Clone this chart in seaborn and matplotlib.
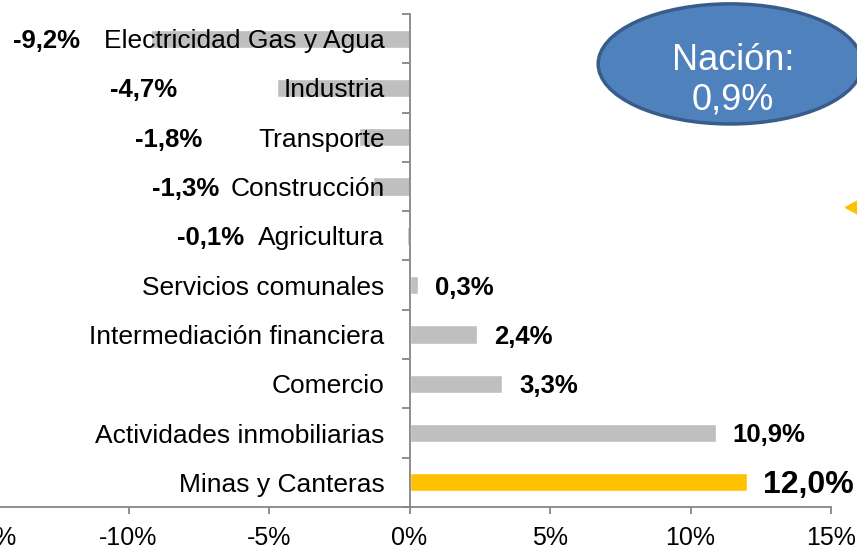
import matplotlib
matplotlib.use("Agg")
import matplotlib.pyplot as plt
import seaborn as sns
import pandas as pd
from matplotlib.patches import Ellipse
from matplotlib.ticker import FuncFormatter, FixedLocator

# Datos: variación por sector (%)
sectores = ["Electricidad Gas y Agua", "Industria", "Transporte", "Construcción",
            "Agricultura", "Servicios comunales", "Intermediación financiera",
            "Comercio", "Actividades inmobiliarias", "Minas y Canteras"]
variacion = [-9.2, -4.7, -1.8, -1.3, -0.1, 0.3, 2.4, 3.3, 10.9, 12.0]
colores = ["#BFBFBF"] * 9 + ["#FFC000"]
nacion = "0,9%"

# posición (borde derecho, en %) de las etiquetas negativas, como en el original
pos_etiq_neg = [-11.74, -8.26, -7.37, -6.76, -5.87]

df = pd.DataFrame({"sector": sectores, "variacion": variacion})

sns.set_theme(style="white")
plt.rcParams["font.family"] = ["Liberation Sans", "DejaVu Sans"]

fig = plt.figure(figsize=(8.57, 5.51), dpi=100)
ax = fig.add_axes([-0.014, 0.0799, 0.9837, 0.8947])

sns.barplot(data=df, x="variacion", y="sector", hue="sector", palette=colores,
            legend=False, orient="h", width=0.37, saturation=1, ax=ax)

# los nombres de sector van por encima de las barras
ax.set_axisbelow(False)

ax.set_xlim(-15, 15)
ax.set_ylim(len(sectores) - 0.5, -0.5)
ax.set_xlabel("")
ax.set_ylabel("")

gris = "#868686"
for s in ["top", "right"]:
    ax.spines[s].set_visible(False)
ax.spines["left"].set_position(("data", 0))
ax.spines["left"].set_color(gris)
ax.spines["bottom"].set_color(gris)
ax.spines["left"].set_linewidth(1.3)
ax.spines["bottom"].set_linewidth(1.3)

ax.set_xticks(range(-15, 16, 5))
ax.xaxis.set_major_formatter(FuncFormatter(lambda v, p: f"{int(v)}%"))
ax.tick_params(axis="x", direction="out", length=5, width=1.3, color=gris,
               labelsize=18, pad=9, labelcolor="black", bottom=True)
ax.tick_params(axis="y", which="major", length=0, pad=18, labelsize=19,
               labelcolor="black", left=True)
ax.yaxis.set_minor_locator(FixedLocator([i - 0.5 for i in range(len(sectores) + 1)]))
ax.tick_params(axis="y", which="minor", direction="out", length=5.5, width=1.3,
               color=gris, left=True)

# etiquetas de valores
k = 0
for i, v in enumerate(variacion):
    txt = f"{v:.1f}%".replace(".", ",")
    if v < 0:
        ax.text(pos_etiq_neg[k], i + 0.05, txt, ha="right", va="center",
                fontsize=18.5, fontweight="bold", color="black", zorder=5)
        k += 1
    else:
        grande = (i == len(variacion) - 1)
        ax.annotate(txt, (v, i + 0.05), xytext=(12, 0), textcoords="offset points",
                    ha="left", va="center", fontweight="bold", color="black",
                    fontsize=23 if grande else 18.5)

# óvalo Nación
elipse = Ellipse((0.852, 0.884), 0.308, 0.218, transform=fig.transFigure,
                 facecolor="#4F81BD", edgecolor="#385D8A", linewidth=2.5)
fig.patches.append(elipse)
fig.text(0.855, 1 - 80 / 551, "Nación:\n" + nacion, ha="center", va="center",
         color="white", fontsize=26, linespacing=1.15)

# estrella dorada recortada al borde
fig.add_artist(plt.Line2D([870 / 857], [1 - 207 / 551], marker=(4, 1, 0),
                          markersize=36, color="#FFC000", linestyle="none",
                          transform=fig.transFigure))

fig.savefig("out.png", dpi=100)
